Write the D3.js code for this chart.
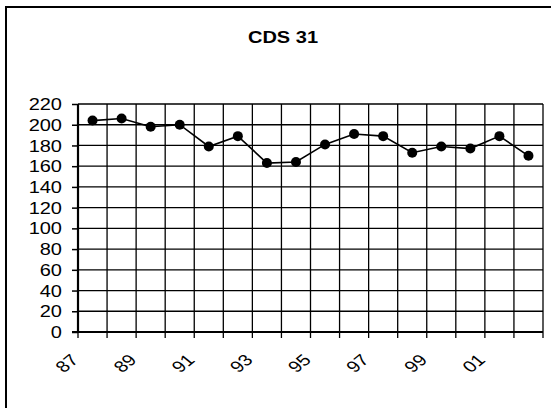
<!DOCTYPE html>
<html>
<head>
<meta charset="utf-8">
<script src="https://cdn.jsdelivr.net/npm/d3@7"></script>
<style>
  body { margin: 0; background: #fff; }
  text { font-family: "Liberation Sans", Arial, sans-serif; fill: #000; }
</style>
</head>
<body>
<div id="chart"></div>
<script>
// Data
var years = ["87","88","89","90","91","92","93","94","95","96","97","98","99","00","01","02"];
var values = [204, 206, 198, 200, 179, 189, 163, 164, 181, 191, 189, 173, 179, 177, 189, 170];
var yTicks = [0, 20, 40, 60, 80, 100, 120, 140, 160, 180, 200, 220];
var title = "CDS 31";

var svgWidth = 551;
var svgHeight = 408;

var margin = { top: 104, right: 8, bottom: 76, left: 78 };
var width = svgWidth - margin.left - margin.right;
var height = svgHeight - margin.top - margin.bottom;

var svg = d3.select("#chart")
  .append("svg")
  .attr("width", svgWidth)
  .attr("height", svgHeight);

// chart frame (runs off the right and bottom edge)
svg.append("rect")
  .attr("x", 6).attr("y", 7)
  .attr("width", 600).attr("height", 450)
  .attr("fill", "none")
  .attr("stroke", "#000")
  .attr("stroke-width", 2);

svg.append("text")
  .attr("transform", "translate(283,43) scale(1.25,1)")
  .attr("text-anchor", "middle")
  .attr("font-size", 16)
  .attr("font-weight", "bold")
  .text(title);

var chartGroup = svg.append("g")
  .attr("transform", `translate(${margin.left}, ${margin.top})`);

var x = d3.scaleBand()
  .domain(years)
  .range([0, width])
  .padding(0);

var y = d3.scaleLinear()
  .domain([0, 220])
  .range([height, 0]);

// horizontal grid
chartGroup.selectAll(".hgrid")
  .data(yTicks)
  .enter()
  .append("line")
  .attr("x1", 0).attr("x2", width)
  .attr("y1", d => y(d)).attr("y2", d => y(d))
  .attr("stroke", "#000")
  .attr("stroke-width", 1.3);

// vertical grid at category boundaries
var bounds = years.map(d => x(d)).concat([width]);
chartGroup.selectAll(".vgrid")
  .data(bounds)
  .enter()
  .append("line")
  .attr("x1", d => d).attr("x2", d => d)
  .attr("y1", 0).attr("y2", height + 6)
  .attr("stroke", "#000")
  .attr("stroke-width", 1.3);

// y axis
var yAxis = d3.axisLeft(y)
  .tickValues(yTicks)
  .tickSize(6)
  .tickPadding(10);

var yg = chartGroup.append("g").call(yAxis);
yg.select(".domain").remove();
yg.selectAll(".tick line").attr("stroke", "#000").attr("stroke-width", 1.5);
yg.selectAll(".tick text")
  .attr("font-size", 16)
  .attr("font-family", "Liberation Sans, Arial, sans-serif")
  .attr("dy", "0.35em")
  .each(function() {
    var t = d3.select(this);
    var xx = +t.attr("x");
    t.attr("x", null).attr("transform", `translate(${xx},0) scale(1.25,1)`);
  });

// axis lines
chartGroup.append("line")
  .attr("x1", 0).attr("x2", 0)
  .attr("y1", 0).attr("y2", height)
  .attr("stroke", "#000").attr("stroke-width", 2.2);
chartGroup.append("line")
  .attr("x1", -6).attr("x2", width)
  .attr("y1", height).attr("y2", height)
  .attr("stroke", "#000").attr("stroke-width", 2.2);

// x labels, every other year, rotated (stretched on screen like the original)
chartGroup.selectAll(".xlab")
  .data(years.filter((d, i) => i % 2 === 0))
  .enter()
  .append("text")
  .attr("text-anchor", "end")
  .attr("font-size", 16)
  .attr("transform", d => `translate(${x(d) + x.bandwidth() / 2 - 13}, ${height + 29}) scale(1.25,1) rotate(-45)`)
  .text(d => d);

// series
var line = d3.line()
  .x((d, i) => x(years[i]) + x.bandwidth() / 2)
  .y(d => y(d));

chartGroup.append("path")
  .datum(values)
  .attr("d", line)
  .attr("fill", "none")
  .attr("stroke", "#000")
  .attr("stroke-width", 1.6);

chartGroup.selectAll(".pt")
  .data(values)
  .enter()
  .append("circle")
  .attr("cx", (d, i) => x(years[i]) + x.bandwidth() / 2)
  .attr("cy", d => y(d))
  .attr("r", 5)
  .attr("fill", "#000");
</script>
</body>
</html>
